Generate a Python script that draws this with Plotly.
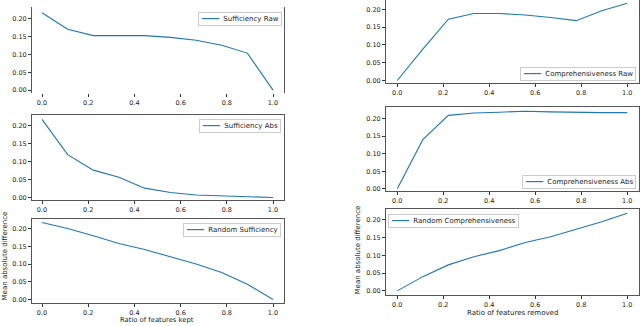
import plotly.graph_objects as go

x_vals = [0.0, 0.111, 0.222, 0.333, 0.444, 0.556, 0.667, 0.778, 0.889, 1.0]

suff_raw = [0.217, 0.171, 0.153, 0.153, 0.153, 0.148, 0.140, 0.126, 0.104, 0.0]
suff_abs = [0.217, 0.119, 0.076, 0.056, 0.026, 0.014, 0.007, 0.004, 0.002, 0.0]
rand_suff = [0.217, 0.200, 0.180, 0.158, 0.141, 0.120, 0.100, 0.076, 0.043, 0.0]
comp_raw = [0.0, 0.088, 0.172, 0.188, 0.188, 0.184, 0.177, 0.168, 0.196, 0.217]
comp_abs = [0.0, 0.140, 0.209, 0.216, 0.218, 0.221, 0.219, 0.217, 0.217, 0.217]
rand_comp = [0.0, 0.040, 0.073, 0.096, 0.113, 0.136, 0.152, 0.172, 0.194, 0.218]

names = ["Sufficiency Raw", "Sufficiency Abs", "Random Sufficiency",
         "Comprehensiveness Raw", "Comprehensiveness Abs", "Random Comprehensiveness"]
series = [suff_raw, suff_abs, rand_suff, comp_raw, comp_abs, rand_comp]

x_ticks = [0.0, 0.2, 0.4, 0.6, 0.8, 1.0]
y_ticks = [0.0, 0.05, 0.10, 0.15, 0.20]

W, H = 640, 326
BLUE = "#1f77b4"
SPINE = "#555555"
TXT = "#222222"
FONT = "DejaVu Sans"

left_xr = [-0.0433, 1.0476]
right_xr = [-0.049, 1.051]
# (x0, x1, ytop, ybottom, yrange, xrange, mirror_top, show_bottom)
panels = [
    (32, 284, 7, 94, [-0.0092, 0.2335], left_xr, True, False),
    (32, 284, 115.7, 201.5, [-0.0077, 0.2293], left_xr, True, True),
    (32, 284, 220, 305, [-0.0103, 0.228], left_xr, True, True),
    (386, 639, 0, 84, [-0.0084, 0.226], right_xr, False, True),
    (386, 639, 107.7, 192, [-0.0057, 0.2328], right_xr, True, True),
    (386, 639, 210.7, 296.7, [-0.0112, 0.2287], right_xr, True, True),
]

# legend box placement: (x px, y px, xanchor, yanchor)
legend_pos = [
    (282, 12, "right", "top"),
    (281, 120, "right", "top"),
    (281, 224, "right", "top"),
    (636, 81, "right", "bottom"),
    (636, 190, "right", "bottom"),
    (388, 215, "left", "top"),
]

fig = go.Figure()
layout = dict(width=W, height=H, margin=dict(l=0, r=0, t=0, b=0),
              paper_bgcolor="white", plot_bgcolor="white",
              font=dict(family=FONT, size=7, color=TXT), showlegend=False)

annotations = []
for i, (p, nm, ys) in enumerate(zip(panels, names, series)):
    x0, x1, yt, yb, yr, xr, mtop, showb = p
    k = "" if i == 0 else str(i + 1)
    fig.add_trace(go.Scatter(x=x_vals, y=ys, mode="lines", name=nm,
                             line=dict(color=BLUE, width=1.1),
                             xaxis="x" + k, yaxis="y" + k))
    layout["xaxis" + k] = dict(
        domain=[x0 / W, x1 / W], range=xr, anchor="y" + k,
        tickvals=x_ticks, ticktext=[f"{v:.1f}" for v in x_ticks],
        ticks="outside", ticklen=3, tickwidth=0.8, tickcolor="#333333",
        showline=showb, linecolor=SPINE, linewidth=1,
        mirror=mtop, showgrid=False, zeroline=False,
        tickfont=dict(family=FONT, size=6.5, color=TXT))
    layout["yaxis" + k] = dict(
        domain=[1 - yb / H, 1 - yt / H], range=yr, anchor="x" + k,
        tickvals=y_ticks, ticktext=[f"{v:.2f}" for v in y_ticks],
        ticks="outside", ticklen=3, tickwidth=0.8, tickcolor="#333333",
        showline=True, linecolor=SPINE, linewidth=1, mirror=True,
        showgrid=False, zeroline=False,
        tickfont=dict(family=FONT, size=6.5, color=TXT))
    lx, ly, xa, ya = legend_pos[i]
    annotations.append(dict(
        text=f"<span style='color:{BLUE}'>━━━━</span>  {nm}",
        x=lx / W, y=1 - ly / H, xref="paper", yref="paper",
        xanchor=xa, yanchor=ya, showarrow=False, align="left",
        bgcolor="white", bordercolor="#cccccc", borderwidth=1, borderpad=2,
        font=dict(family=FONT, size=7, color=TXT)))

annotations += [
    dict(text="Ratio of features kept", x=157 / W, y=1 - 322 / H, xref="paper", yref="paper",
         xanchor="center", yanchor="middle",
         showarrow=False, font=dict(family=FONT, size=6.8, color=TXT)),
    dict(text="Ratio of features removed", x=512 / W, y=1 - 315 / H, xref="paper", yref="paper",
         xanchor="center", yanchor="middle",
         showarrow=False, font=dict(family=FONT, size=7, color=TXT)),
    dict(text="Mean absolute difference", x=5 / W, y=1 - 258 / H, xref="paper", yref="paper",
         xanchor="center", yanchor="middle",
         showarrow=False, textangle=-90, font=dict(family=FONT, size=7, color=TXT)),
    dict(text="Mean absolute difference", x=358 / W, y=1 - 252 / H, xref="paper", yref="paper",
         xanchor="center", yanchor="middle",
         showarrow=False, textangle=-90, font=dict(family=FONT, size=7, color=TXT)),
]
layout["annotations"] = annotations
fig.update_layout(**layout)
fig.write_html("out.html", config={"displayModeBar": False},
               post_script="document.body.style.margin='0px';document.body.style.overflow='hidden';")
